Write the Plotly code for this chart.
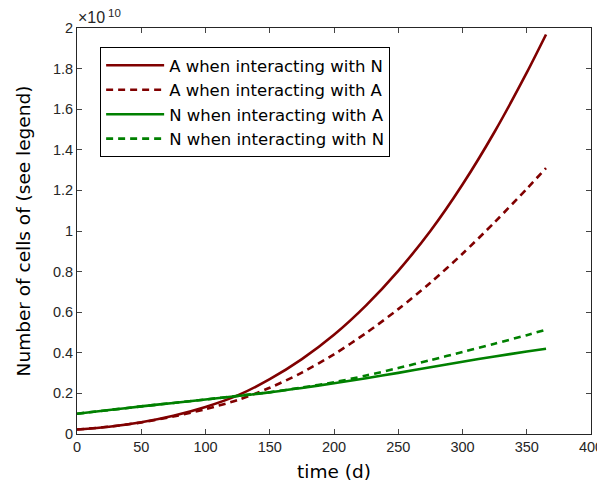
import plotly.graph_objects as go

# time points (days)
days = [0, 25, 50, 75, 100, 125, 150, 175, 200, 225, 250, 275, 300, 325, 350, 365]

# number of cells (in units of 1e10)
a_with_n = [0.022, 0.036, 0.058, 0.090, 0.133, 0.190, 0.270, 0.369, 0.489, 0.634, 0.804, 1.000, 1.229, 1.489, 1.780, 1.968]
a_with_a = [0.022, 0.036, 0.057, 0.086, 0.1225, 0.1675, 0.2275, 0.3025, 0.3925, 0.4975, 0.615, 0.745, 0.888, 1.043, 1.208, 1.31]
n_with_a = [0.100, 0.118, 0.136, 0.153, 0.170, 0.187, 0.205, 0.227, 0.250, 0.275, 0.301, 0.329, 0.356, 0.382, 0.406, 0.42]
n_with_n = [0.100, 0.118, 0.136, 0.153, 0.170, 0.188, 0.206, 0.229, 0.255, 0.288, 0.325, 0.364, 0.404, 0.445, 0.487, 0.514]

names = ["A when interacting with N", "A when interacting with A",
         "N when interacting with A", "N when interacting with N"]
series = [a_with_n, a_with_a, n_with_a, n_with_n]
colors = ["#800000", "#800000", "#008000", "#008000"]
dashes = ["solid", "7px,5px", "solid", "7px,5px"]

x_ticks = [0, 50, 100, 150, 200, 250, 300, 350, 400]
y_ticks = [0, 0.2, 0.4, 0.6, 0.8, 1, 1.2, 1.4, 1.6, 1.8, 2]
y_tick_labels = ["0", "0.2", "0.4", "0.6", "0.8", "1", "1.2", "1.4", "1.6", "1.8", "2"]

fig = go.Figure()
for nm, ys, c, d in zip(names, series, colors, dashes):
    fig.add_trace(go.Scatter(x=days, y=ys, mode="lines", name=nm,
                             line=dict(color=c, width=2.6, dash=d, shape="spline", smoothing=0.8)))

axcol = "#262626"
fig.update_layout(
    width=597, height=481,
    margin=dict(l=69, r=14, t=20, b=55),
    paper_bgcolor="white", plot_bgcolor="white",
    font=dict(family="DejaVu Sans", size=14, color=axcol),
    showlegend=True,
    legend=dict(x=0.045, y=0.953, xanchor="left", yanchor="top",
                bgcolor="white", bordercolor="black", borderwidth=1,
                font=dict(family="DejaVu Sans", size=16.5, color="black"),
                itemwidth=58, tracegroupgap=0),
)
fig.update_xaxes(range=[0, 400], tickvals=x_ticks, ticks="inside", ticklen=5,
                 showline=True, linecolor=axcol, linewidth=1, mirror="ticks",
                 showgrid=False, zeroline=False, automargin=False,
                 tickfont=dict(family="Liberation Sans", size=14.5, color=axcol),
                 title=dict(text="time (d)", font=dict(family="DejaVu Sans", size=18.5, color="black"), standoff=10))
fig.update_yaxes(range=[0, 2], tickvals=y_ticks, ticktext=y_tick_labels, ticks="inside", ticklen=5,
                 showline=True, linecolor=axcol, linewidth=1, mirror="ticks",
                 showgrid=False, zeroline=False, automargin=False,
                 tickfont=dict(family="Liberation Sans", size=14.5, color=axcol),
                 title=dict(text="Number of cells of (see legend)", font=dict(family="DejaVu Sans", size=18.5, color="black"), standoff=17))
fig.add_annotation(text="\u00d710", xref="paper", yref="paper", x=0, y=1,
                   xanchor="left", yanchor="bottom", showarrow=False, xshift=-1, yshift=0,
                   font=dict(family="Liberation Sans", size=16, color=axcol))
fig.add_annotation(text="10", xref="paper", yref="paper", x=0, y=1,
                   xanchor="left", yanchor="bottom", showarrow=False, xshift=29, yshift=7,
                   font=dict(family="Liberation Sans", size=11.5, color=axcol))

fig.write_html("out.html")
